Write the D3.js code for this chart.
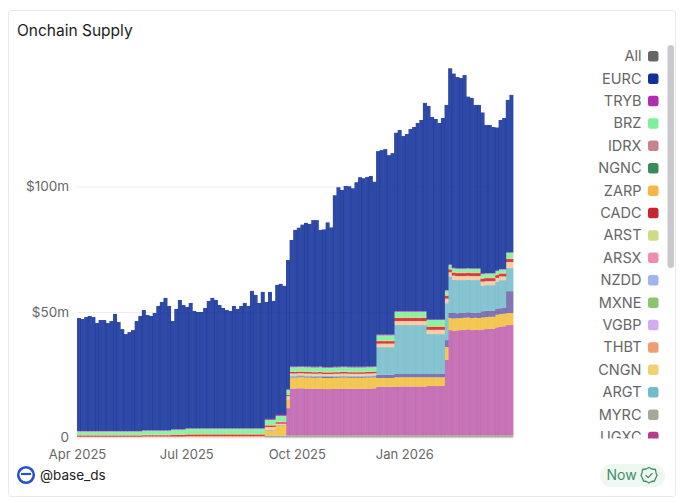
<!DOCTYPE html>
<html>
<head>
<meta charset="utf-8">
<script src="https://cdn.jsdelivr.net/npm/d3@7"></script>
<style>
  html, body { margin: 0; padding: 0; background: #fff; }
  text { font-family: Inter, "Liberation Sans", sans-serif; }
</style>
</head>
<body>
<div id="chart"></div>
<script>
// values in $m, one bar every 3 days from 1 Apr 2025
const myrc = [
  0,0,0,0,0,0,0,0,0,0, 0,0,0,0,0,0,0,0,0,0, 0,0,0,0,0,0,0,0,0,0,
  0,0,0,0,0,0,0,0,0,0, 0,0,0,0,0,0,0,0,0,0, 0,0,.8,.8,.8,.8,.8,.8,.8,.9,
  .9,.9,.9,.9,.9,.9,.9,.9,.9,.9, .9,.9,.9,.9,.9,.9,.9,.9,.9,.9,
  .9,.9,.9,.9,.9,.9,.9,.9,.9,.9, .9,.9,.9,.9,.9,.9,.9,.9,.9,.9,
  .9,.9,.9,.9,.9,.9,.9,.9,.9,.9, .9,.9,.9,.9,.9,.9,.9,.9,.9,.9, .9];
const ugxc = [
  0,0,0,0,0,0,0,0,0,0, 0,0,0,0,0,0,0,0,0,0, 0,0,0,0,0,0,0,0,0,0,
  0,0,0,0,0,0,0,0,0,0, 0,0,0,0,0,0,0,0,0,0, 0,0,0,0,0,0,0,0,10.9,18.6,
  18.6,18.7,18.7,18.6,18.6,18.5,18.5,18.6,18.4,18.4, 18.4,18.5,18.5,18.6,18.6,18.5,18.5,18.5,18.5,18.5,
  18.6,18.6,18.7,19.3,19.3,19.3,19.3,19.3,19.4,19.4, 19.4,19.4,19.4,19.4,19.4,19.4,19.4,19.6,19.6,19.6,
  19.6,19.6,30,41.9,41.6,41.8,41.9,42,42.2,41.9, 42,41.9,42.1,42.3,42.4,42.4,43,43.3,43.4,43.9, 43.9];
const cngn = [
  0,0,0,0,0,0,0,0,0,0, 0,0,0,0,0,0,0,0,0,0, 0,0,0,0,0,0,0,0,0,0,
  0,0,0,0,0,0,0,0,0,0, 0,0,0,0,0,0,0,0,0,0, 0,0,2,2,2,4,4,4,3.2,4.4,
  4.4,4.4,4.4,4.4,4.4,4.4,4.4,4.4,4.4,4.4, 4.4,4.4,4.4,4.4,4.4,4.4,4.4,4.4,4.4,4.4,
  4.4,4.4,4.4,3.5,3.5,3.5,3.5,3.5,3.7,3.7, 3.7,3.7,3.7,3.7,3.7,3.7,3.7,3.5,3.5,3.5,
  3.5,3.5,5.1,4.8,4.9,4.8,4.8,4.8,4.7,4.8, 4.8,4.8,4.8,4.8,4.8,4.8,5,5,5,4.8, 4.8];
// darker purple band between CNGN and ARGT, its legend row is scrolled out of view
const purpleBand = [
  0,0,0,0,0,0,0,0,0,0, 0,0,0,0,0,0,0,0,0,0, 0,0,0,0,0,0,0,0,0,0,
  0,0,0,0,0,0,0,0,0,0, 0,0,0,0,0,0,0,0,0,0, 0,0,.1,.1,.1,.1,.1,.1,.1,.4,
  .4,.4,.4,.4,.4,.4,.4,.4,.4,.4, .4,.4,.4,.4,.4,.4,.4,.4,.4,.4,
  .4,.4,.4,1.3,1.3,1.3,1.3,1.3,1.3,1.3, 1.3,1.3,1.3,1.3,1.3,1.3,1.3,1.5,1.5,1.5,
  1.5,1.5,2.8,2,2.2,2,2,2,2.1,2, 2,2,2.5,2.5,2.5,2.5,2.3,2.3,2.3,8.7, 8.7];
const argt = [
  0,0,0,0,0,0,0,0,0,0, 0,0,0,0,0,0,0,0,0,0, 0,0,0,0,0,0,0,0,0,0,
  0,0,0,0,0,0,0,0,0,0, 0,0,0,0,0,0,0,0,0,0, 0,0,.1,.1,.1,.1,.1,.1,.1,.4,
  .4,.4,.4,.4,.4,.4,.4,.4,.4,.4, .4,.4,.4,.4,.4,.4,.4,.4,.4,.4,
  .4,.4,.4,11,11,11,11,11,19.5,19.5, 19.5,19.5,19.5,19.5,19.5,19.5,19.5,15.7,15.7,15.7,
  15.7,15.7,14.7,14.6,13.3,13.2,13.1,13,12.9,13.1, 13,13.1,10.2,10.2,10.1,10.1,10.9,11.2,11.1,9.2, 9.2];
const thbt = [
  .3,.3,.3,.3,.3,.3,.3,.3,.3,.3, .3,.3,.3,.3,.3,.3,.3,.3,.4,.4, .4,.4,.4,.4,.4,.4,.4,.4,.4,.4,
  .5,.5,.5,.5,.5,.5,.5,.5,.5,.5, .5,.5,.5,.5,.5,.5,.5,.5,.5,.5, .5,.5,1.2,1.2,1.2,.5,.5,.5,1.4,.8,
  .8,.8,.8,.8,.8,.8,.8,.8,.8,.8, .8,.8,.8,.8,.8,.8,.8,.8,.8,.8,
  .8,.8,.8,1.4,1.4,1.4,1.4,1.4,1.6,1.6, 1.6,1.6,1.6,1.6,1.6,1.6,1.6,1.7,1.7,1.7,
  1.7,1.7,1.8,1.6,1.6,1.6,1.6,1.6,1.6,1.6, 1.6,1.6,1.6,1.6,1.6,1.6,1.5,1.5,1.5,2.4, 2.4];
const cadc = [
  .5,.5,.5,.5,.5,.5,.5,.5,.5,.5, .5,.5,.5,.5,.5,.5,.5,.5,.5,.5, .5,.5,.5,.5,.5,.5,.6,.6,.6,.6,
  .7,.7,.7,.7,.7,.7,.7,.7,.7,.7, .7,.7,.7,.7,.7,.7,.7,.7,.7,.7, .7,.7,.6,.6,.6,.6,.6,.6,.4,.6,
  .6,.6,.6,.6,.6,.6,.6,.6,.6,.6, .6,.6,.6,.6,.6,.6,.6,.6,.6,.6,
  .6,.6,.6,1,1,1,1,1,1.2,1.2, 1.2,1.2,1.2,1.2,1.2,1.2,1.2,1.2,1.2,1.2,
  1.2,1.2,1.2,1.2,1.2,1.2,1.2,1.2,1.2,1.2, 1.2,1.2,1.2,1.2,1.2,1.2,1.1,1.1,1.1,1.2, 1.2];
const zarp = [
  .2,.2,.2,.2,.2,.2,.2,.2,.2,.2, .2,.2,.2,.2,.2,.2,.2,.2,.2,.2, .2,.2,.2,.2,.2,.2,.2,.2,.2,.2,
  .2,.2,.2,.2,.2,.2,.2,.2,.2,.2, .2,.2,.2,.2,.2,.2,.2,.2,.2,.2, .2,.2,.2,.2,.2,.2,.2,.2,.1,.2,
  .2,.2,.2,.2,.2,.2,.2,.2,.2,.2, .2,.2,.2,.2,.2,.2,.2,.2,.2,.2,
  .2,.2,.2,.3,.3,.3,.3,.3,.3,.3, .3,.3,.3,.3,.3,.3,.3,.3,.3,.3,
  .3,.3,.3,.3,.3,.3,.3,.3,.3,.3, .3,.3,.3,.3,.3,.3,.3,.3,.3,.3, .3];
const brz = [
  1.4,1.4,1.4,1.4,1.4,1.4,1.4,1.4,1.4,1.4, 1.4,1.4,1.4,1.4,1.4,1.4,1.4,1.4,1.6,1.6, 1.6,1.6,1.6,1.6,1.6,1.6,1.9,1.9,1.9,1.9,
  2.1,2.1,2.1,2.1,2.1,2.1,2.1,2.1,2.1,2.1, 2.1,2.1,2.1,2.1,2.1,2.1,2.1,2.1,2.1,2.1, 2.1,2.1,2,2,2,2.3,2.3,2.3,2,1.7,
  1.7,1.7,1.7,1.7,1.7,1.7,1.7,1.7,1.7,1.7, 1.7,1.7,1.7,1.7,1.7,1.7,1.7,1.7,1.7,1.7,
  1.7,1.7,1.7,2,2,2,2,2,2.2,2.2, 2.2,2.2,2.2,2.2,2.2,2.2,2.2,2.4,2.4,2.4,
  2.4,2.4,1.7,1.4,1.4,1.4,1.4,1.4,1.4,1.4, 1.4,1.4,1.5,1.5,1.5,1.5,1.3,1.3,1.3,2.2, 2.2];
const tryb = [
  .2,.2,.2,.2,.2,.2,.2,.2,.2,.2, .2,.2,.2,.2,.2,.2,.2,.2,.2,.2, .2,.2,.2,.2,.2,.2,.2,.2,.2,.2,
  .2,.2,.2,.2,.2,.2,.2,.2,.2,.2, .2,.2,.2,.2,.2,.2,.2,.2,.2,.2, .2,.2,.4,.4,.4,.4,.4,.4,.3,.3,
  .3,.3,.3,.3,.3,.3,.3,.3,.3,.3, .3,.3,.3,.3,.3,.3,.3,.3,.3,.3,
  .3,.3,.3,.3,.3,.3,.3,.3,.3,.3, .3,.3,.3,.3,.3,.3,.3,.2,.2,.2,
  .2,.2,.2,.2,.2,.2,.2,.2,.2,.2, .2,.2,.2,.2,.2,.2,.2,.2,.2,.2, .2];
const eurc = [
  45,44.6,45.4,45.8,45.4,43,44.2,44.2,43,43.8,
  46.6,43.4,40.6,38.6,39.4,40.2,43.8,45.8,47.9,45.9,
  45.5,46.7,49.5,51.1,52.7,49.5,43.1,47.9,51.5,49.5,
  48.3,49.9,46.7,46.3,46.3,47.9,50.7,51.9,51.1,49.1,
  47.9,47.1,46.7,48.7,47.5,48.7,49.9,48.7,54.7,53.1,
  49.9,54.3,46.6,50.6,47,51.8,52.2,51.4,51.4,50.4,
  54.4,55.2,56.4,57.2,56.8,58.4,58.4,54.4,54.8,57.6,
  55.6,68.3,71.5,70.3,71.9,71.9,71.1,73.5,75.5,75.1,
  75.5,75.9,73.5,73.1,73.5,73.9,71.5,72.3,71,72.1,
  69.7,70.5,72.5,73.3,74.9,76.1,82.9,85.1,80.7,79.9,
  78.3,80.3,73.8,78.2,77.4,76.2,75.8,77,68.3,67.9,
  65.1,65.1,64.2,59,59,58.2,57,59.4,60.2,60.7,
  62.7];

const yTicks = [0, 50, 100];
const xTicks = [new Date(2025, 3, 1), new Date(2025, 6, 1), new Date(2025, 9, 1), new Date(2026, 0, 1)];
const legendNames = ["All", "EURC", "TRYB", "BRZ", "IDRX", "NGNC", "ZARP", "CADC", "ARST", "ARSX", "NZDD", "MXNE", "VGBP", "THBT", "CNGN", "ARGT", "MYRC", "UGXC"];
const legendColors = ["#666666", "#12309a", "#b02cb0", "#7df09a", "#c98090", "#3a8a5c", "#f7b544", "#c9252f", "#cfdc85", "#f08cb0", "#a0b4ee", "#8cc46e", "#d4aaf0", "#ee9c70", "#f2cf72", "#70bccb", "#a8a898", "#b83c8c"];

const width = 680, height = 503;
const dates = d3.timeDay.range(new Date(2025, 3, 1), new Date(2026, 2, 30), 3);

const seriesNames = ["MYRC", "UGXC", "CNGN", "band", "ARGT", "THBT", "CADC", "ZARP", "BRZ", "TRYB", "EURC"];
const seriesValues = [myrc, ugxc, cngn, purpleBand, argt, thbt, cadc, zarp, brz, tryb, eurc];
const seriesColors = ["#a09f92", "#bf60ae", "#f0bf3c", "#6f62a8", "#74bcca", "#f6c79a", "#c9252f", "#f7b544", "#7df09a", "#b02cb0", "#12309a"];

const rows = dates.map((d, i) => {
  const row = { date: d };
  seriesNames.forEach((n, s) => { row[n] = seriesValues[s][i]; });
  return row;
});
const stacked = d3.stack().keys(seriesNames)(rows);

const x = d3.scaleTime().domain([dates[0], new Date(2026, 2, 30)]).range([77, 513]);
const y = d3.scaleLinear().domain([0, 150]).range([437.5, 61]);

const svg = d3.select("#chart").append("svg")
  .attr("width", width).attr("height", height).style("display", "block");

// card
svg.append("rect").attr("x", 8.5).attr("y", 10.5).attr("width", 667).attr("height", 486).attr("rx", 3)
  .attr("fill", "#fff").attr("stroke", "#e9e9e9");
svg.append("text").attr("x", 17).attr("y", 36).attr("font-size", 15.5).attr("fill", "#1c1c1c").text("Onchain Supply");

// grid + y axis
const yAxis = svg.append("g").attr("transform", "translate(77,0)")
  .call(d3.axisLeft(y).tickValues(yTicks).tickSize(-436).tickPadding(8)
    .tickFormat(d => d === 0 ? "0" : `$${d}m`));
yAxis.select(".domain").remove();
yAxis.selectAll("line").attr("stroke", "#ececec");
yAxis.selectAll("text").attr("font-size", 13.5).attr("fill", "#666").attr("font-family", "Inter");

// bars, slightly wider than the step so the seams come out darker
svg.append("g").selectAll("g").data(stacked).enter().append("g")
  .attr("fill", (d, i) => seriesColors[i])
  .attr("fill-opacity", 0.88)
  .selectAll("rect").data(d => d).enter().append("rect")
  .attr("x", d => x(d.data.date))
  .attr("width", d => x(d3.timeDay.offset(d.data.date, 3)) - x(d.data.date) + 0.4)
  .attr("y", d => y(d[1]))
  .attr("height", d => y(d[0]) - y(d[1]));

// x axis
const xAxis = svg.append("g").attr("transform", "translate(0,437.5)")
  .call(d3.axisBottom(x).tickValues(xTicks).tickSize(0).tickPadding(12)
    .tickFormat(d3.timeFormat("%b %Y")));
xAxis.select(".domain").remove();
xAxis.selectAll("text").attr("font-size", 13).attr("fill", "#666").attr("font-family", "Inter");
// Jan label sits a little left of its date in the original
xAxis.selectAll("text").filter(d => d.getFullYear() === 2026).attr("dx", -3);

// legend, scrolled list clipped at the bottom
svg.append("clipPath").attr("id", "legendClip").append("rect")
  .attr("x", 560).attr("y", 40).attr("width", 105).attr("height", 398.5);
const legendY = d3.scalePoint().domain(legendNames).range([56, 56 + 22.4 * 17]);
const legend = svg.append("g").attr("clip-path", "url(#legendClip)")
  .selectAll("g").data(legendNames).enter().append("g")
  .attr("transform", d => `translate(0,${legendY(d)})`);
legend.append("text").attr("x", 641.5).attr("dy", "0.36em").attr("text-anchor", "end")
  .attr("font-size", 14.5).attr("fill", "#666").text(d => d);
legend.append("rect").attr("x", 648).attr("y", -5).attr("width", 10.5).attr("height", 10.5).attr("rx", 2.5)
  .attr("fill", (d, i) => legendColors[i]);

// scrollbar
svg.append("rect").attr("x", 667.5).attr("y", 45).attr("width", 6.5).attr("height", 223).attr("rx", 3.25)
  .attr("fill", "#c9c9cd");

// watermark
svg.append("circle").attr("cx", 26).attr("cy", 475).attr("r", 7.8)
  .attr("fill", "#fff").attr("stroke", "#2850d0").attr("stroke-width", 2.6);
svg.append("line").attr("x1", 21).attr("x2", 31).attr("y1", 474).attr("y2", 474)
  .attr("stroke", "#2850d0").attr("stroke-width", 2.2);
svg.append("text").attr("x", 40).attr("y", 480).attr("font-size", 13.5).attr("fill", "#222").text("@base_ds");

// "Now" pill
svg.append("rect").attr("x", 600).attr("y", 464).attr("width", 65).attr("height", 23).attr("rx", 11.5)
  .attr("fill", "#eef8f1");
svg.append("text").attr("x", 606.5).attr("y", 480).attr("font-size", 14).attr("fill", "#3f8f6d").text("Now");
const badge = svg.append("g").attr("transform", "translate(649,475)")
  .attr("fill", "none").attr("stroke", "#3f8f6d").attr("stroke-width", 1.3).attr("stroke-linejoin", "round");
badge.append("path").attr("d", "M0,-7.5 L3,-6 L6.5,-5.5 L7,-2 L8,0.5 L6.5,3.5 L5.5,6 L2.5,6.5 L0,8 L-2.5,6.5 L-5.5,6 L-6.5,3.5 L-8,0.5 L-7,-2 L-6.5,-5.5 L-3,-6 Z");
badge.append("path").attr("d", "M-3,0.5 L-0.8,2.6 L3.2,-1.6").attr("stroke-linecap", "round");
</script>
</body>
</html>
